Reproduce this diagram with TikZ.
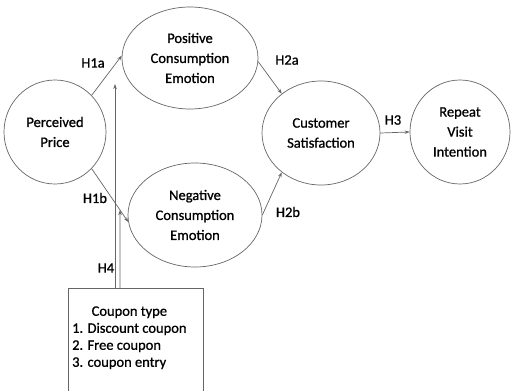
\documentclass[tikz,border=0pt]{standalone}
\usepackage{fontspec}
\setmainfont{Carlito}
\newfontfamily\semib{Carlito}[UprightFeatures={FakeBold=0.9}]
\usetikzlibrary{shapes.geometric,arrows.meta}
\begin{document}
\begin{tikzpicture}[x=1pt,y=-1pt,
  construct/.style={ellipse,draw=black!60,line width=0.7pt,inner sep=0pt,align=center,
    font=\semib\fontsize{14.5}{20}\selectfont},
  link/.style={draw=black!60,line width=0.7pt,-{Stealth[length=5pt,width=3.5pt]}},
  hlabel/.style={font=\semib\fontsize{14.5}{17}\selectfont,inner sep=0pt}]
\useasboundingbox (0,0) rectangle (512,391);
\clip (0,0) rectangle (512,391);
\fill[white] (0,0) rectangle (512,391);
% constructs
\node[construct,minimum width=102pt,minimum height=104pt] (PP) at (55,132) {Perceived\\Price};
\node[construct,minimum width=136pt,minimum height=102pt] (PCE) at (190,58) {Positive\\Consumption\\Emotion};
\node[construct,minimum width=134pt,minimum height=104pt] (NCE) at (195,215) {Negative\\Consumption\\Emotion};
\node[construct,minimum width=118pt,minimum height=104pt] (CS) at (321,133) {Customer\\Satisfaction};
\node[construct,minimum width=100pt,minimum height=104pt] (RVI) at (460,132) {Repeat\\Visit\\Intention};
% coupon box
\node[draw=black!60,line width=0.7pt,minimum width=135pt,minimum height=120pt,anchor=north west,inner sep=0pt] (CB) at (68,288) {};
\node[anchor=north west,inner sep=0pt,font=\semib\fontsize{14.5}{18}\selectfont] (CT) at (72,303)
  {\begin{tabular}{@{}l@{}}\multicolumn{1}{@{}c@{}}{Coupon type}\\[-1pt]1. Discount coupon\\[-1pt]2. Free coupon\\[-1pt]3. coupon entry\end{tabular}};
% connectors
\draw[link] (PP.45) -- (PCE.178);
\draw[link] (PP.-45) -- (NCE.186);
\draw[link] (PCE.-3) -- (CS.135);
\draw[link] (NCE.east) -- (CS.-135);
\draw[link] (CS.east) -- (RVI.west);
\coordinate (h4a) at (115,288);
\coordinate (h4atop) at (115,84);
\coordinate (h4b) at (120,288);
\coordinate (h4btop) at (120,150);
\draw[link] (h4a) -- (h4atop);
\draw[link] (h4b) -- (intersection of PP.-45--NCE.186 and h4b--h4btop);
% labels
\node[hlabel] (L1a) at (93,63) {H1a};
\node[hlabel] (L1b) at (95,198) {H1b};
\node[hlabel] (L2a) at (287,60) {H2a};
\node[hlabel] (L2b) at (288,212) {H2b};
\node[hlabel] (L3) at (393,120) {H3};
\node[hlabel] (L4) at (106,268) {H4};
\end{tikzpicture}
\end{document}
